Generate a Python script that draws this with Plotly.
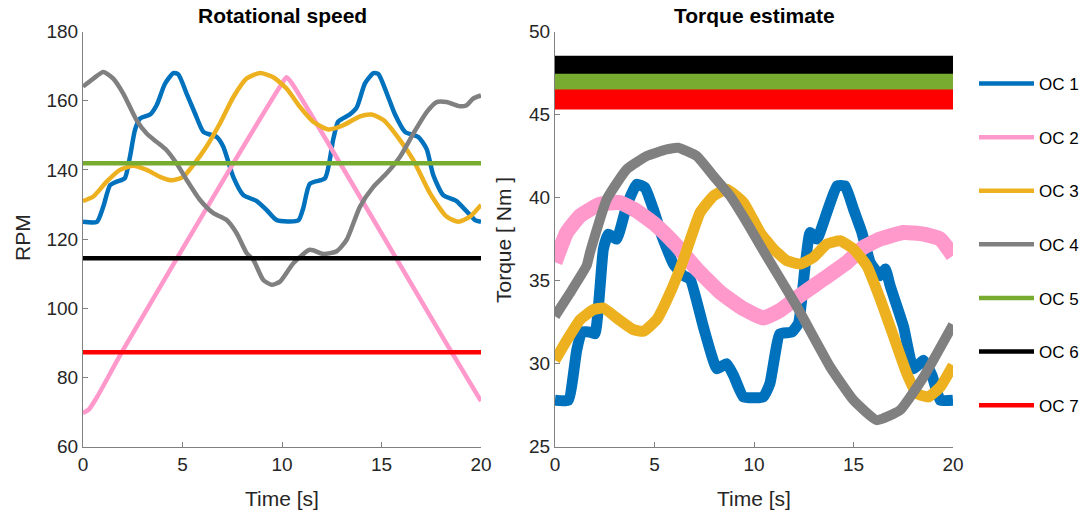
import plotly.graph_objects as go
from plotly.subplots import make_subplots

# ---------------- Rotational speed (RPM) ----------------
rpm_t1 = [0, 0.7, 1.02, 1.36, 1.69, 2.1, 2.36, 2.61, 2.86, 3.37, 3.7, 4.12, 4.54, 4.79, 5.21, 5.63,
          6.05, 6.72, 7.05, 7.55, 8.06, 8.73, 9.23, 9.73, 10.82, 11.07, 11.4, 12.16, 12.58, 12.83,
          13.4, 13.75, 14.17, 14.6, 14.84, 15.34, 15.68, 16.18, 16.85, 17.27, 17.6, 18.1, 18.77,
          19.28, 19.7, 20]
rpm_oc1 = [125.0, 125.0, 129.4, 135.6, 136.6, 137.6, 143.8, 151.5, 154.8, 156.0, 158.7, 164.9, 168.0,
           167.6, 162.0, 156.3, 151.0, 149.5, 146.7, 138.0, 132.7, 131.0, 128.4, 125.5, 125.4, 129.0,
           136.0, 137.6, 149.0, 154.0, 156.0, 158.0, 165.0, 168.0, 167.7, 161.0, 156.0, 151.0, 149.5,
           146.0, 138.5, 132.7, 131.0, 128.0, 125.5, 125.0]

rpm_t2 = [0, 0.3, 0.7, 2.03, 7.55, 10.0, 10.23, 10.5, 18.44, 20]
rpm_oc2 = [69.7, 70.8, 74.3, 88.1, 141.9, 165.0, 166.8, 165.0, 88.1, 73.2]

rpm_t3 = [0, 0.52, 1.19, 1.86, 2.53, 3.2, 3.87, 4.45, 5.04, 5.54, 6.2, 6.88, 7.55, 8.22, 8.9, 9.56,
          10.23, 10.9, 11.57, 12.33, 13.08, 13.92, 14.5, 15.1, 15.93, 16.6, 17.44, 18.27, 18.86,
          19.45, 20]
rpm_oc3 = [131.0, 132.3, 136.6, 140.0, 141.2, 140.0, 138.0, 137.0, 138.0, 141.4, 146.7, 153.4, 161.0,
           166.4, 168.0, 166.8, 163.5, 158.2, 153.9, 151.7, 152.9, 155.5, 156.0, 154.4, 148.6, 142.8,
           133.2, 126.5, 125.0, 126.5, 129.9]

rpm_t4 = [0, 0.52, 1.02, 1.52, 2.03, 2.69, 3.2, 3.7, 4.2, 4.7, 5.21, 5.88, 6.55, 7.22, 7.72, 8.22,
          8.56, 9.06, 9.48, 9.9, 10.57, 11.4, 12.08, 12.75, 13.25, 13.92, 14.59, 15.26, 15.93,
          16.6, 17.27, 17.77, 18.27, 18.94, 19.28, 19.6, 20]
rpm_oc4 = [164.1, 166.4, 168.3, 166.4, 162.0, 154.4, 150.5, 148.1, 145.7, 141.9, 137.1, 131.3, 127.5,
           125.5, 121.7, 116.0, 114.0, 108.2, 106.8, 107.7, 113.0, 116.9, 115.7, 116.5, 119.8, 129.4,
           135.1, 139.0, 143.8, 150.5, 156.7, 159.6, 159.6, 158.4, 158.7, 160.6, 161.5]

rpm_t_const = [0, 20]
rpm_oc5 = [141.9, 141.9]
rpm_oc6 = [114.5, 114.5]
rpm_oc7 = [87.3, 87.3]

# ---------------- Torque estimate (Nm) ----------------
trq_t1 = [0, 0.67, 1.09, 1.34, 1.76, 2.01, 2.43, 2.68, 3.1, 3.6, 4.1, 4.52, 4.94, 5.37, 5.95, 6.45,
          6.79, 7.46, 8.13, 8.63, 8.97, 9.47, 10.47, 10.8, 11.3, 11.9, 12.24, 12.57, 12.82, 13.16,
          13.66, 14.17, 14.58, 15.0, 15.42, 15.84, 16.34, 16.6, 16.84, 17.51, 18.01, 18.52, 18.94,
          19.36, 20]
trq_oc1 = [27.8, 27.8, 30.8, 31.9, 31.9, 31.8, 36.9, 37.8, 37.5, 39.5, 40.8, 40.6, 39.3, 37.7, 36.0,
           35.3, 35.1, 32.2, 29.7, 30.0, 29.3, 28.0, 28.0, 28.8, 31.8, 31.9, 32.45, 35.9, 37.9, 37.5,
           39.1, 40.7, 40.7, 39.3, 37.9, 36.1, 35.3, 35.7, 34.7, 32.25, 29.7, 30.2, 29.3, 27.8, 27.8]

trq_t2 = [0, 0.59, 1.26, 2.26, 3.27, 4.1, 5.11, 6.12, 7.12, 8.3, 9.47, 10.47, 11.3, 12.3, 13.5,
          14.67, 15.5, 16.34, 17.51, 18.52, 19.36, 20]
trq_oc2 = [36.1, 37.9, 38.9, 39.6, 39.7, 39.2, 38.3, 37.1, 35.7, 34.3, 33.3, 32.75, 33.2, 34.1, 35.1,
           36.1, 37.0, 37.5, 37.9, 37.8, 37.5, 36.5]

trq_t3 = [0, 0.59, 1.26, 1.93, 2.43, 3.1, 3.94, 4.44, 5.11, 5.78, 6.45, 7.29, 7.96, 8.63, 9.47,
          10.31, 10.98, 11.65, 12.32, 12.99, 13.66, 14.33, 15.0, 15.67, 16.34, 17.01, 17.68, 18.18,
          18.77, 19.36, 20]
trq_oc3 = [30.2, 31.4, 32.65, 33.25, 33.35, 32.75, 32.05, 31.95, 32.65, 34.25, 36.25, 39.1, 40.1,
           40.5, 39.7, 37.9, 36.9, 36.2, 36.0, 36.4, 37.2, 37.4, 36.9, 35.9, 33.9, 31.65, 29.4, 28.2,
           28.0, 28.6, 29.9]

trq_t4 = [0, 0.75, 1.59, 1.76, 2.6, 3.6, 4.61, 5.61, 6.2, 7.12, 7.96, 8.8, 9.64, 10.47, 12.15, 13.83,
          15.0, 16.17, 17.34, 18.52, 20]
trq_oc4 = [32.85, 34.25, 35.9, 36.7, 39.9, 41.7, 42.5, 42.9, 43.0, 42.5, 41.3, 40.1, 38.5, 36.8,
           33.45, 29.8, 27.8, 26.6, 27.2, 29.2, 32.35]

trq_t_const = [0, 20]
trq_oc5 = [47.0, 47.0]
trq_oc6 = [48.0, 48.0]
trq_oc7 = [45.9, 45.9]

names = ["OC 1", "OC 2", "OC 3", "OC 4", "OC 5", "OC 6", "OC 7"]
colors = ["#0072BD", "#FF99CC", "#EDB120", "#808080", "#77AC30", "#000000", "#FF0000"]

rpm_series = [(rpm_t1, rpm_oc1), (rpm_t2, rpm_oc2), (rpm_t3, rpm_oc3), (rpm_t4, rpm_oc4),
              (rpm_t_const, rpm_oc5), (rpm_t_const, rpm_oc6), (rpm_t_const, rpm_oc7)]
trq_series = [(trq_t1, trq_oc1), (trq_t2, trq_oc2), (trq_t3, trq_oc3), (trq_t4, trq_oc4),
              (trq_t_const, trq_oc5), (trq_t_const, trq_oc6), (trq_t_const, trq_oc7)]
# the torque estimate is noisy: its spread is shown as the stroke width
trq_widths = [11, 15, 11, 10, 18, 18, 20]

fig = make_subplots(rows=1, cols=2)

for i, (t, v) in enumerate(rpm_series):
    fig.add_trace(go.Scatter(x=t, y=v, mode="lines", name=names[i], legendgroup=names[i],
                             line=dict(color=colors[i], width=4.5, shape="spline", smoothing=0.6)),
                  row=1, col=1)

for i, (t, v) in enumerate(trq_series):
    fig.add_trace(go.Scatter(x=t, y=v, mode="lines", name=names[i], legendgroup=names[i],
                             showlegend=False,
                             line=dict(color=colors[i], width=trq_widths[i], shape="spline",
                                       smoothing=0.4)),
                  row=1, col=2)

W, H = 1089, 515
font = "Liberation Sans, Arial, sans-serif"
tick_font = dict(family=font, size=19, color="#262626")
axis_common = dict(showgrid=False, zeroline=False, showline=True, linecolor="#808080", linewidth=1,
                   ticks="inside", ticklen=5, tickcolor="#808080", tickfont=tick_font, mirror=False,
                   automargin=False)

fig.update_xaxes(range=[0, 20], tickvals=[0, 5, 10, 15, 20], **axis_common)
fig.update_xaxes(domain=[83 / W, 481 / W], row=1, col=1)
fig.update_xaxes(domain=[555 / W, 953 / W], row=1, col=2)
fig.update_yaxes(domain=[(H - 446.7) / H, (H - 31.5) / H], **axis_common)
fig.update_yaxes(range=[60, 180], tickvals=[60, 80, 100, 120, 140, 160, 180], row=1, col=1)
fig.update_yaxes(range=[25, 50], tickvals=[25, 30, 35, 40, 45, 50], row=1, col=2)

ann = []
title_font = dict(family=font, size=21, color="#000000")
label_font = dict(family=font, size=21, color="#262626")
ann.append(dict(text="<b>Rotational speed</b>", x=282 / W, y=1 - 16 / H, xref="paper", yref="paper",
                showarrow=False, font=title_font, xanchor="center", yanchor="middle"))
ann.append(dict(text="<b>Torque estimate</b>", x=754 / W, y=1 - 16 / H, xref="paper", yref="paper",
                showarrow=False, font=title_font, xanchor="center", yanchor="middle"))
ann.append(dict(text="Time [s]", x=282 / W, y=1 - 498 / H, xref="paper", yref="paper",
                showarrow=False, font=label_font, xanchor="center", yanchor="middle"))
ann.append(dict(text="Time [s]", x=754 / W, y=1 - 498 / H, xref="paper", yref="paper",
                showarrow=False, font=label_font, xanchor="center", yanchor="middle"))
ann.append(dict(text="RPM", x=22 / W, y=1 - 238 / H, xref="paper", yref="paper", textangle=-90,
                showarrow=False, font=label_font, xanchor="center", yanchor="middle"))
ann.append(dict(text="Torque [ Nm ]", x=503 / W, y=1 - 240 / H, xref="paper", yref="paper",
                textangle=-90, showarrow=False, font=label_font, xanchor="center", yanchor="middle"))

fig.update_layout(
    width=W, height=H, autosize=False,
    margin=dict(l=0, r=0, t=0, b=0, autoexpand=False),
    paper_bgcolor="white", plot_bgcolor="white",
    annotations=ann,
    showlegend=True,
    legend=dict(x=1.0 - 5 / W, y=1 - 66 / H, xanchor="right", yanchor="top",
                font=dict(family=font, size=17, color="#000000"),
                traceorder="grouped", tracegroupgap=28.5, itemwidth=55,
                bgcolor="rgba(0,0,0,0)", borderwidth=0),
)

fig.write_html("out.html")
